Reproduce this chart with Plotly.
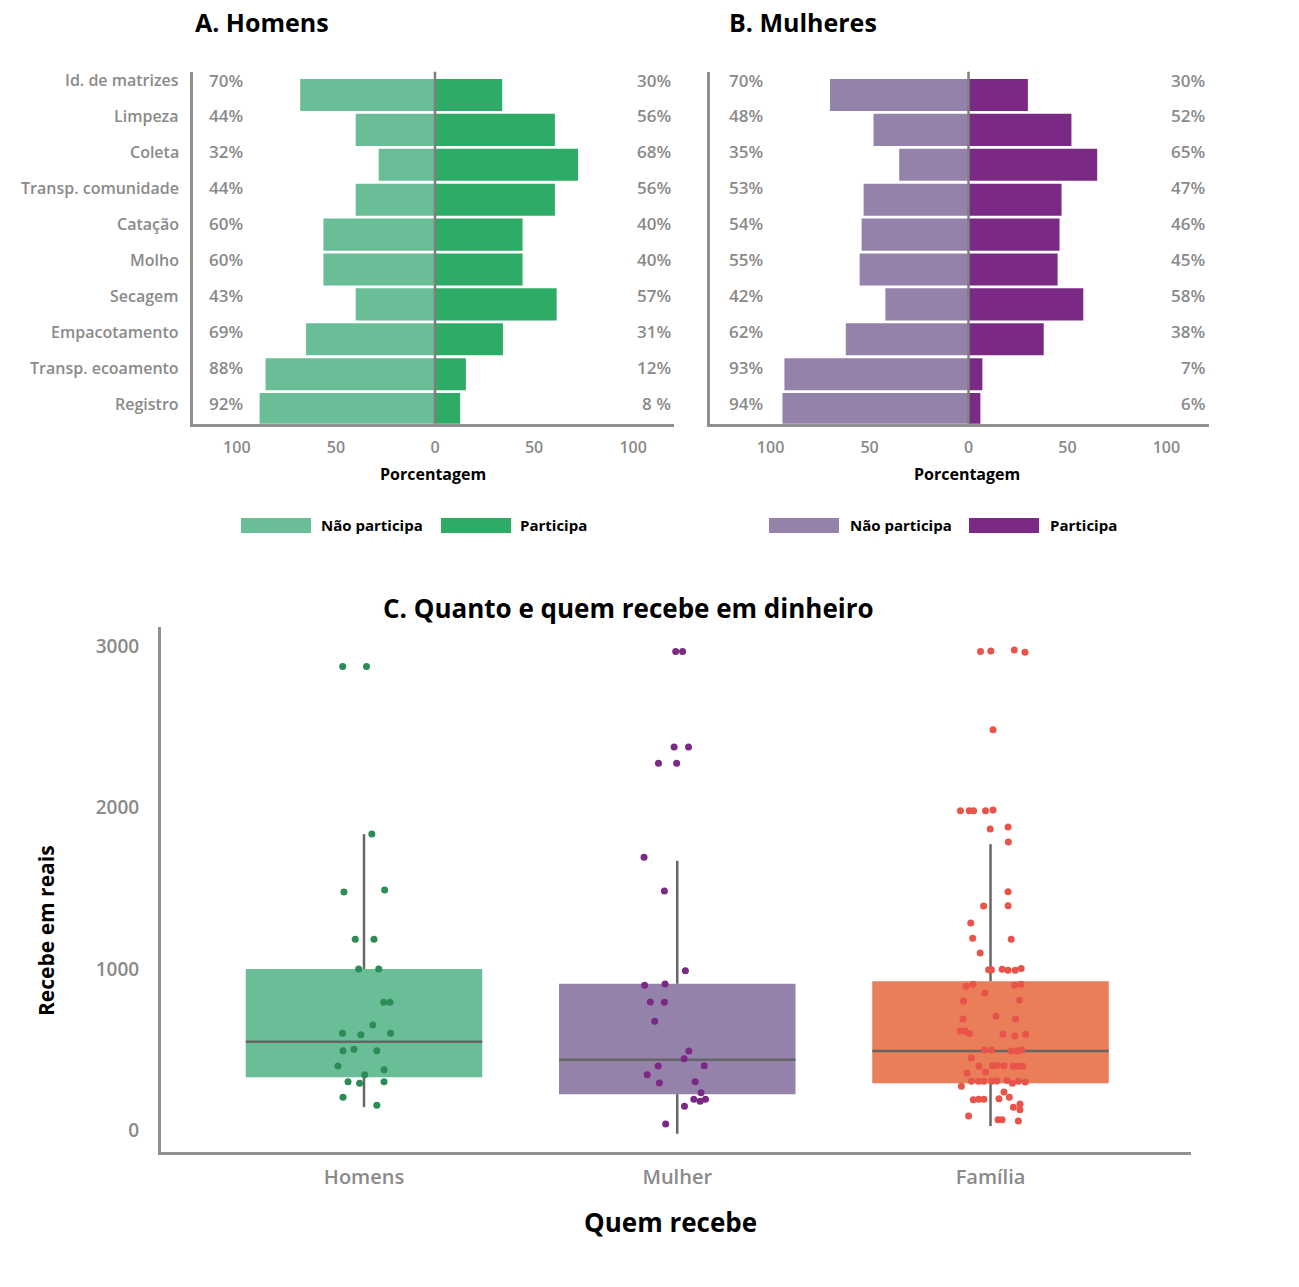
import plotly.graph_objects as go

# ---------------- DATA ----------------
atividades = ["Id. de matrizes", "Limpeza", "Coleta", "Transp. comunidade", "Catação",
              "Molho", "Secagem", "Empacotamento", "Transp. ecoamento", "Registro"]

# Panel A (Homens): bar lengths as drawn, and printed labels
homens_nao = [68, 40, 28.4, 40, 56.3, 56.3, 40, 65.1, 85.5, 88.5]
homens_part = [33.9, 60.5, 72.2, 60.5, 44.2, 44.2, 61.4, 34.3, 15.6, 12.7]
homens_nao_rot = ["70%", "44%", "32%", "44%", "60%", "60%", "43%", "69%", "88%", "92%"]
homens_part_rot = ["30%", "56%", "68%", "56%", "40%", "40%", "57%", "31%", "12%", "8 %"]

# Panel B (Mulheres)
mulheres_nao = [70, 48, 35, 53, 54, 55, 42, 62, 93, 94]
mulheres_part = [30, 52, 65, 47, 46, 45, 58, 38, 7, 6]
mulheres_nao_rot = ["70%", "48%", "35%", "53%", "54%", "55%", "42%", "62%", "93%", "94%"]
mulheres_part_rot = ["30%", "52%", "65%", "47%", "46%", "45%", "58%", "38%", "7%", "6%"]

eixo_ticks = [-100, -50, 0, 50, 100]
eixo_rot = ["100", "50", "0", "50", "100"]

# Panel C: box statistics
grupos = ["Homens", "Mulher", "Família"]
q1 = [330, 225, 293]
mediana = [550, 438, 493]
q3 = [1000, 909, 925]
bigode_inf = [145, -20, 27]
bigode_sup = [1835, 1670, 1773]

# Panel C: individual values and their horizontal jitter (category units)
homens_val = [2874, 2874, 1836, 1477, 1489, 1184, 1184, 1000, 1000, 794, 794, 653, 602, 593,
              602, 494, 503, 494, 399, 346, 376, 302, 292, 302, 206, 156]
homens_jit = [-0.068, 0.008, 0.025, -0.064, 0.066, -0.028, 0.032, -0.017, 0.047, 0.063, 0.083,
              0.028, -0.069, -0.010, 0.085, -0.067, -0.032, 0.041, -0.083, 0.002, 0.064, -0.051,
              -0.014, 0.064, -0.067, 0.041]

mulher_val = [2967, 2967, 2375, 2375, 2274, 2274, 1692, 1483, 990, 899, 907, 796, 794, 676,
              492, 445, 399, 401, 346, 294, 302, 234, 193, 181, 193, 150, 40]
mulher_jit = [-0.005, 0.017, -0.010, 0.036, -0.060, -0.002, -0.106, -0.041, 0.026, -0.104,
              -0.039, -0.086, -0.041, -0.072, 0.037, 0.022, -0.061, 0.086, -0.096, -0.057,
              0.057, 0.076, 0.053, 0.073, 0.090, 0.023, -0.037]

familia_val = [2967, 2970, 2975, 2962,
               2482,
               1980, 1980, 1980, 1980, 1985,
               1867, 1879, 1786, 1479, 1390, 1392, 1285, 1190, 1184, 1099,
               996, 996, 998, 993, 993, 1003,
               893, 905, 899, 905,
               851, 802, 806, 690, 707, 690,
               616, 616, 599, 596, 585, 596,
               498, 498, 492, 492, 498,
               449, 398, 401, 404, 401, 398, 398, 398,
               354, 362,
               305, 305, 305, 305, 307, 310, 292, 305, 300,
               274, 238, 206, 190, 194, 194, 197, 164, 144, 129, 90, 67, 67, 59]
familia_jit = [-0.032, 0.001, 0.076, 0.110,
               0.008,
               -0.096, -0.068, -0.054, -0.016, 0.008,
               -0.001, 0.056, 0.057, 0.056, -0.022, 0.056, -0.063, -0.057, 0.066, -0.033,
               -0.006, 0.003, 0.037, 0.056, 0.079, 0.098,
               -0.078, -0.056, 0.077, 0.097,
               -0.018, -0.086, 0.092, -0.088, 0.017, 0.080,
               -0.097, -0.081, -0.067, 0.040, 0.078, 0.112,
               -0.020, 0.004, 0.066, 0.084, 0.100,
               -0.061, -0.037, 0.006, 0.022, 0.043, 0.073, 0.089, 0.103,
               -0.075, -0.016,
               -0.061, -0.038, -0.021, 0.004, 0.020, 0.053, 0.070, 0.089, 0.111,
               -0.093, 0.043, 0.060, -0.055, -0.038, -0.021, 0.027, 0.094, 0.073, 0.094,
               -0.070, 0.024, 0.037, 0.089]

# ---------------- STYLE ----------------
W, H = 1299, 1287
FONT = "Open Sans"
GRAY_TXT = "#8a8a8a"
AXIS = "#8f8f8f"
verde_claro, verde = "#69BE97", "#2EAB66"
roxo_claro, roxo = "#9582AB", "#7A2A84"
box_cores = ["#69BE97", "#9582AB", "#E97E59"]
pt_cores = ["#2B8C55", "#7A2A84", "#E8534A"]


def px(xp):
    return xp / W


def py(yp):
    return 1 - yp / H


n = len(atividades)
ypos = [n - 1 - k for k in range(n)]
# label rows are spaced slightly wider than the bars in the original
ylab = [n - 1 + 0.43 - 1.03 * k for k in range(n)]

fig = go.Figure()

# Panel A bars
fig.add_trace(go.Bar(x=[-v for v in homens_nao], y=ypos, orientation="h", width=0.92,
                     marker=dict(color=verde_claro, line=dict(width=0)),
                     xaxis="x", yaxis="y", showlegend=False, hoverinfo="skip"))
fig.add_trace(go.Bar(x=homens_part, y=ypos, orientation="h", width=0.92,
                     marker=dict(color=verde, line=dict(width=0)),
                     xaxis="x", yaxis="y", showlegend=False, hoverinfo="skip"))
# Panel B bars
fig.add_trace(go.Bar(x=[-v for v in mulheres_nao], y=ypos, orientation="h", width=0.92,
                     marker=dict(color=roxo_claro, line=dict(width=0)),
                     xaxis="x2", yaxis="y2", showlegend=False, hoverinfo="skip"))
fig.add_trace(go.Bar(x=mulheres_part, y=ypos, orientation="h", width=0.92,
                     marker=dict(color=roxo, line=dict(width=0)),
                     xaxis="x2", yaxis="y2", showlegend=False, hoverinfo="skip"))

# Panel C boxes (as floating bars)
gx = list(range(len(grupos)))
BW = 0.755
fig.add_trace(go.Bar(x=gx, y=[b - a for a, b in zip(q1, q3)], base=q1, width=BW,
                     marker=dict(color=box_cores, line=dict(width=0)),
                     xaxis="x3", yaxis="y3", showlegend=False, hoverinfo="skip"))
# medians
mx, my = [], []
for i, m in enumerate(mediana):
    mx += [i - BW / 2, i + BW / 2, None]
    my += [m, m, None]
fig.add_trace(go.Scatter(x=mx, y=my, mode="lines", line=dict(color="#666666", width=2.5),
                         xaxis="x3", yaxis="y3", showlegend=False, hoverinfo="skip"))
# whiskers
wx, wy = [], []
for i in gx:
    wx += [i, i, None, i, i, None]
    wy += [q3[i], bigode_sup[i], None, q1[i], bigode_inf[i], None]
fig.add_trace(go.Scatter(x=wx, y=wy, mode="lines", line=dict(color="#666666", width=2.5),
                         xaxis="x3", yaxis="y3", showlegend=False, hoverinfo="skip"))
# points
for i, (vals, jit) in enumerate([(homens_val, homens_jit), (mulher_val, mulher_jit),
                                  (familia_val, familia_jit)]):
    fig.add_trace(go.Scatter(x=[i + j for j in jit], y=vals, mode="markers",
                             marker=dict(color=pt_cores[i], size=7, line=dict(width=0)),
                             xaxis="x3", yaxis="y3", showlegend=False, hoverinfo="skip"))

ax_common = dict(showgrid=False, zeroline=False, showline=True, linecolor=AXIS, linewidth=3,
                 fixedrange=True)
tickf = dict(family=FONT, size=16, color=GRAY_TXT, weight=600)

fig.update_layout(
    width=W, height=H, margin=dict(l=0, r=0, t=0, b=0),
    paper_bgcolor="white", plot_bgcolor="white", barmode="overlay",
    font=dict(family=FONT),
    xaxis=dict(domain=[px(193), px(674)], range=[-122.1, 120.6], anchor="y",
               tickvals=eixo_ticks, ticktext=eixo_rot, tickfont=tickf,
               ticklabelstandoff=7, **ax_common),
    yaxis=dict(domain=[py(423.7), py(71.7)], range=[-0.418, 9.668], anchor="x",
               showticklabels=False, **ax_common),
    xaxis2=dict(domain=[px(710), px(1209)], range=[-130.6, 121.5], anchor="y2",
                tickvals=eixo_ticks, ticktext=eixo_rot, tickfont=tickf,
                ticklabelstandoff=7, **ax_common),
    yaxis2=dict(domain=[py(423.7), py(71.7)], range=[-0.418, 9.668], anchor="x2",
                showticklabels=False, **ax_common),
    xaxis3=dict(domain=[px(161), px(1191)], range=[-0.648, 2.640], anchor="y3",
                tickvals=gx, ticktext=grupos,
                tickfont=dict(family=FONT, size=20, color=GRAY_TXT, weight=600),
                ticklabelstandoff=5, **ax_common),
    yaxis3=dict(domain=[py(1152), py(627)], range=[-133, 3118], anchor="x3",
                tickvals=[0, 1000, 2000, 3000],
                tickfont=dict(family=FONT, size=19, color=GRAY_TXT, weight=600),
                ticklabelstandoff=15, **ax_common),
)

shapes = []
for xr, yr in [("x", "y"), ("x2", "y2")]:
    shapes.append(dict(type="line", xref=xr, yref=yr + " domain", x0=0, x1=0, y0=0, y1=1,
                       line=dict(color="#7f7f7f", width=2.5), layer="above"))

ann = []


def txt(x, y, s, size=16, color="black", weight=700, xanchor="center", yref="paper",
        xref="paper", angle=0):
    ann.append(dict(x=x, y=y, xref=xref, yref=yref, text=s, showarrow=False,
                    xanchor=xanchor, yanchor="middle", textangle=angle,
                    font=dict(family=FONT, size=size, color=color, weight=weight)))


# titles
txt(px(193), py(22), "A. Homens", size=25, xanchor="left")
txt(px(727), py(22), "B. Mulheres", size=25, xanchor="left")
txt(px(433), py(474), "Porcentagem", size=16)
txt(px(967), py(474), "Porcentagem", size=16)
txt(px(628), py(608), "C. Quanto e quem recebe em dinheiro", size=26)
txt(px(670), py(1222), "Quem recebe", size=26)
txt(px(46), py(931), "Recebe em reais", size=21, angle=-90)

# category labels and percent labels
for k in range(n):
    txt(px(181), ylab[k], atividades[k], color=GRAY_TXT, weight=600, xanchor="right", yref="y")
    txt(px(207), ylab[k], homens_nao_rot[k], size=17, color=GRAY_TXT, weight=600,
        xanchor="left", yref="y")
    txt(px(673), ylab[k], homens_part_rot[k], size=17, color=GRAY_TXT, weight=600,
        xanchor="right", yref="y")
    txt(px(727), ylab[k], mulheres_nao_rot[k], size=17, color=GRAY_TXT, weight=600,
        xanchor="left", yref="y2")
    txt(px(1207), ylab[k], mulheres_part_rot[k], size=17, color=GRAY_TXT, weight=600,
        xanchor="right", yref="y2")

# legends
for (x0, c1, xt1, x2, c2, xt2) in [(241, verde_claro, 319, 441, verde, 518),
                                   (769, roxo_claro, 848, 969, roxo, 1048)]:
    shapes.append(dict(type="rect", xref="paper", yref="paper", x0=px(x0), x1=px(x0 + 70),
                       y0=py(533), y1=py(518), fillcolor=c1, line=dict(width=0)))
    shapes.append(dict(type="rect", xref="paper", yref="paper", x0=px(x2), x1=px(x2 + 70),
                       y0=py(533), y1=py(518), fillcolor=c2, line=dict(width=0)))
    txt(px(xt1), py(525.5), "Não participa", size=15, xanchor="left")
    txt(px(xt2), py(525.5), "Participa", size=15, xanchor="left")

fig.update_layout(shapes=shapes, annotations=ann)
fig.write_html("out.html")
